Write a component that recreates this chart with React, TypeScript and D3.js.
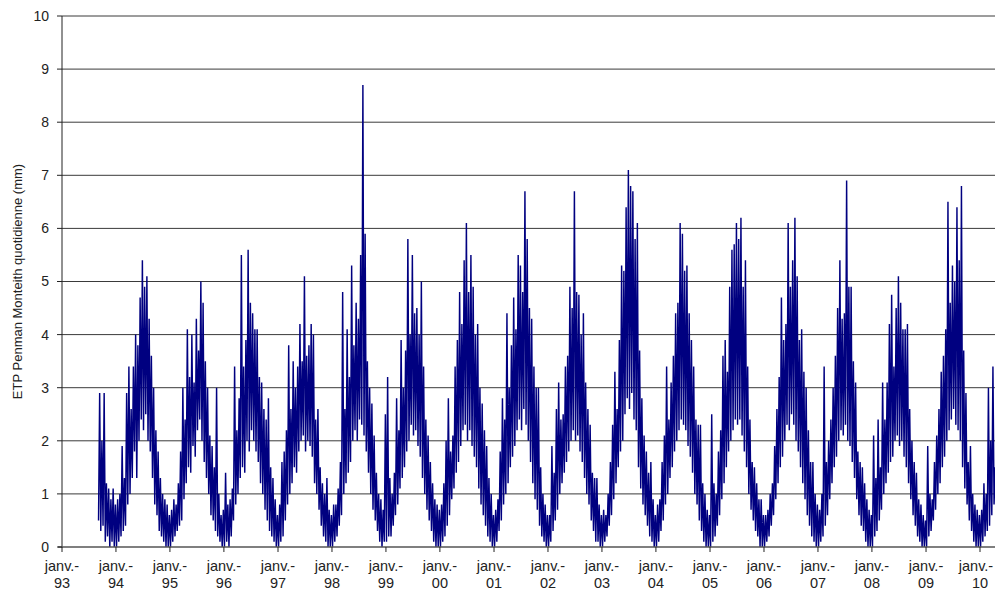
import React from "react";
import * as d3 from "d3";

// ---- axis content ----
const YEAR_TICKS = [1993, 1994, 1995, 1996, 1997, 1998, 1999, 2000, 2001, 2002, 2003, 2004, 2005, 2006, 2007, 2008, 2009, 2010];
const YEAR_LABELS = ["93", "94", "95", "96", "97", "98", "99", "00", "01", "02", "03", "04", "05", "06", "07", "08", "09", "10"];
const MONTH_LABEL = "janv.-";
const Y_TICKS = [0, 1, 2, 3, 4, 5, 6, 7, 8, 9, 10];
const Y_TITLE = "ETP Penman Monteith quotidienne (mm)";

// ---- daily ETP, as [low, high] per half-month ----
const start1993 = 16; // first half-month with data (September)
const etp1993 = [[0.5, 2.9], [0.3, 2.0], [0.4, 2.9], [0.1, 1.2], [0.2, 1.1], [0.0, 0.9], [0.1, 1.1], [0.0, 0.8]];
const etp1994 = [[0.0, 0.9], [0.1, 1.0], [0.2, 1.9], [0.3, 1.3], [0.4, 2.9], [0.8, 3.4], [1.0, 2.6], [1.3, 3.4], [1.8, 4.0], [1.3, 3.8], [2.0, 4.7], [2.4, 5.4], [2.2, 4.9], [2.5, 5.1], [2.0, 4.3], [1.8, 3.6], [1.3, 3.0], [0.8, 2.2], [0.6, 1.8], [0.3, 1.3], [0.2, 1.0], [0.1, 0.9], [0.0, 0.8], [0.0, 0.6]];
const etp1995 = [[0.0, 0.7], [0.1, 0.9], [0.2, 0.8], [0.3, 1.2], [0.4, 1.8], [0.5, 3.0], [0.9, 2.4], [1.2, 4.1], [1.5, 3.2], [1.4, 4.0], [1.9, 3.1], [1.7, 4.3], [2.2, 3.7], [2.4, 5.0], [2.0, 4.6], [1.6, 3.5], [1.3, 3.0], [1.0, 2.1], [0.6, 1.9], [0.5, 1.5], [0.3, 3.0], [0.2, 1.0], [0.1, 0.6], [0.0, 0.7]];
const etp1996 = [[0.0, 1.4], [0.1, 0.8], [0.0, 0.9], [0.2, 1.1], [0.5, 3.4], [0.8, 2.2], [1.0, 2.8], [1.3, 5.5], [1.5, 3.4], [1.4, 3.9], [2.0, 5.6], [1.8, 4.6], [2.2, 4.4], [2.0, 4.1], [1.8, 4.1], [1.6, 3.2], [1.2, 3.1], [1.0, 2.6], [0.7, 2.4], [0.5, 2.8], [0.3, 1.5], [0.2, 1.3], [0.1, 0.9], [0.0, 0.6]];
const etp1997 = [[0.0, 0.8], [0.1, 1.6], [0.2, 1.8], [0.5, 2.2], [0.8, 3.8], [1.0, 2.6], [1.2, 3.5], [1.5, 3.0], [1.4, 3.4], [1.8, 4.2], [2.0, 3.5], [2.1, 5.1], [1.8, 3.6], [2.0, 3.8], [1.9, 4.2], [1.7, 4.0], [1.2, 2.4], [1.0, 2.6], [0.7, 1.5], [0.4, 1.2], [0.2, 1.0], [0.1, 1.3], [0.0, 0.7], [0.0, 0.6]];
const etp1998 = [[0.0, 0.8], [0.1, 0.8], [0.2, 1.1], [0.4, 1.6], [0.6, 4.8], [1.0, 2.6], [1.2, 4.1], [1.4, 3.2], [1.6, 5.3], [2.0, 3.8], [2.2, 4.6], [2.0, 4.3], [2.4, 5.5], [2.3, 8.7], [2.1, 5.9], [1.8, 3.5], [1.4, 3.0], [1.0, 2.7], [0.7, 2.1], [0.5, 1.4], [0.3, 1.0], [0.1, 0.9], [0.0, 0.7], [0.1, 2.5]];
const etp1999 = [[0.1, 3.2], [0.2, 1.3], [0.2, 1.0], [0.4, 1.4], [0.6, 2.8], [0.8, 2.2], [1.1, 3.9], [1.3, 3.0], [1.5, 3.7], [1.8, 5.8], [2.0, 4.0], [2.3, 5.5], [2.1, 4.4], [2.2, 4.5], [1.9, 4.0], [1.7, 5.0], [1.3, 3.4], [1.0, 2.4], [0.7, 2.1], [0.5, 1.6], [0.3, 1.2], [0.1, 0.9], [0.0, 0.8], [0.0, 0.7]];
const etp2000 = [[0.0, 0.8], [0.1, 1.2], [0.2, 2.0], [0.4, 2.8], [0.6, 1.8], [0.9, 2.1], [1.1, 3.4], [1.4, 3.9], [1.6, 4.8], [1.9, 4.2], [2.2, 5.4], [2.3, 6.1], [2.0, 4.8], [2.2, 5.5], [1.9, 4.9], [1.7, 4.0], [1.5, 4.2], [1.1, 3.0], [0.8, 2.7], [0.6, 2.2], [0.4, 1.9], [0.2, 1.3], [0.1, 1.0], [0.0, 0.6]];
const etp2001 = [[0.0, 0.7], [0.1, 0.9], [0.3, 1.8], [0.5, 2.8], [0.8, 2.4], [1.0, 4.4], [1.2, 3.0], [1.5, 3.8], [1.7, 4.7], [1.9, 4.1], [2.2, 5.5], [2.4, 5.3], [2.2, 4.8], [2.6, 6.7], [2.3, 5.8], [2.0, 4.5], [1.6, 4.3], [1.2, 3.4], [0.9, 3.0], [0.7, 3.0], [0.4, 1.5], [0.2, 1.0], [0.1, 0.8], [0.0, 0.6]];
const etp2002 = [[0.0, 0.6], [0.1, 1.9], [0.3, 1.4], [0.5, 2.6], [0.7, 3.1], [1.0, 2.4], [1.2, 2.5], [1.4, 3.4], [1.6, 3.6], [1.8, 4.9], [2.0, 4.5], [2.2, 6.7], [2.0, 4.8], [2.1, 4.75], [1.8, 4.0], [1.6, 4.4], [1.3, 3.1], [1.0, 2.6], [0.8, 2.3], [0.5, 1.4], [0.3, 1.3], [0.1, 1.3], [0.1, 0.8], [0.0, 0.6]];
const etp2003 = [[0.0, 0.7], [0.1, 0.6], [0.2, 1.0], [0.4, 1.6], [0.6, 2.3], [0.9, 3.3], [1.2, 2.6], [1.5, 3.9], [1.8, 5.3], [2.0, 5.2], [2.5, 6.4], [2.8, 7.1], [2.6, 6.8], [2.9, 6.7], [2.4, 5.8], [2.2, 6.1], [1.5, 3.7], [1.1, 2.8], [0.8, 2.1], [0.6, 1.8], [0.4, 1.4], [0.2, 1.6], [0.1, 0.9], [0.0, 0.6]];
const etp2004 = [[0.0, 0.8], [0.1, 0.9], [0.3, 1.6], [0.5, 2.1], [0.8, 3.4], [1.0, 2.4], [1.3, 3.1], [1.5, 3.6], [1.8, 4.4], [2.0, 4.6], [2.2, 6.1], [2.4, 5.9], [2.3, 5.2], [2.2, 5.3], [1.9, 4.4], [1.7, 3.9], [1.4, 3.4], [1.0, 2.4], [0.8, 2.3], [0.5, 2.3], [0.3, 1.2], [0.1, 1.0], [0.0, 0.7], [0.0, 0.6]];
const etp2005 = [[0.0, 2.5], [0.1, 1.2], [0.2, 1.0], [0.4, 1.8], [0.6, 2.2], [0.9, 3.6], [1.2, 3.9], [1.5, 3.3], [1.8, 4.9], [2.0, 5.6], [2.2, 5.7], [2.4, 6.1], [2.3, 5.8], [2.4, 6.2], [2.1, 4.9], [1.8, 5.4], [1.5, 3.4], [1.0, 2.4], [0.7, 1.6], [0.5, 1.5], [0.3, 1.2], [0.2, 0.9], [0.0, 0.9], [0.0, 0.6]];
const etp2006 = [[0.0, 0.6], [0.1, 0.7], [0.2, 1.0], [0.4, 1.2], [0.6, 1.9], [0.9, 2.6], [1.2, 3.2], [1.5, 4.7], [1.7, 3.9], [2.0, 4.2], [2.3, 6.1], [2.2, 4.9], [2.5, 5.4], [2.3, 6.2], [2.0, 5.1], [1.8, 3.9], [1.5, 4.1], [1.2, 3.3], [0.9, 3.0], [0.6, 2.2], [0.4, 1.6], [0.2, 1.6], [0.1, 1.0], [0.0, 0.8]];
const etp2007 = [[0.0, 0.7], [0.1, 1.0], [0.2, 3.4], [0.4, 1.6], [0.6, 2.0], [0.9, 2.4], [1.2, 3.0], [1.5, 3.6], [1.7, 4.5], [2.0, 5.4], [2.2, 4.3], [2.1, 4.4], [2.3, 6.9], [2.0, 4.9], [1.9, 4.9], [1.6, 3.5], [1.3, 3.1], [0.9, 1.8], [0.6, 1.6], [0.4, 1.5], [0.3, 1.2], [0.1, 0.9], [0.0, 0.7], [0.0, 0.6]];
const etp2008 = [[0.0, 2.1], [0.2, 1.3], [0.3, 2.4], [0.5, 1.5], [0.7, 3.1], [1.0, 2.4], [1.2, 3.1], [1.4, 4.2], [1.6, 4.75], [1.7, 3.4], [2.0, 4.5], [2.1, 5.1], [1.9, 4.6], [2.0, 4.1], [1.7, 4.1], [1.5, 4.2], [1.2, 2.6], [0.9, 2.0], [0.6, 1.6], [0.4, 1.4], [0.2, 0.9], [0.1, 0.8], [0.0, 0.6], [0.0, 0.5]];
const etp2009 = [[0.0, 1.9], [0.2, 1.0], [0.3, 0.9], [0.5, 1.6], [0.7, 2.1], [1.0, 2.6], [1.2, 3.3], [1.5, 3.6], [1.7, 4.1], [2.0, 6.5], [2.2, 4.6], [2.4, 5.3], [2.6, 5.0], [2.3, 6.4], [2.2, 5.4], [2.0, 6.8], [1.5, 3.7], [1.1, 2.9], [0.8, 1.6], [0.5, 1.9], [0.3, 1.0], [0.1, 0.8], [0.0, 0.7], [0.0, 0.6]];
const etp2010 = [[0.0, 0.7], [0.1, 1.2], [0.2, 1.0], [0.3, 3.0], [0.4, 2.0], [0.6, 3.4], [0.8, 1.5]];

const seriesByYear: [number, number, number[][]][] = [
  [1993, start1993, etp1993], [1994, 0, etp1994], [1995, 0, etp1995], [1996, 0, etp1996],
  [1997, 0, etp1997], [1998, 0, etp1998], [1999, 0, etp1999], [2000, 0, etp2000],
  [2001, 0, etp2001], [2002, 0, etp2002], [2003, 0, etp2003], [2004, 0, etp2004],
  [2005, 0, etp2005], [2006, 0, etp2006], [2007, 0, etp2007], [2008, 0, etp2008],
  [2009, 0, etp2009], [2010, 0, etp2010],
];

type Pt = { date: Date; v: number };
const points: Pt[] = [];
seriesByYear.forEach(([year, start, pairs]) => {
  const t0 = +new Date(year, 0, 1);
  const len = +new Date(year + 1, 0, 1) - t0;
  pairs.forEach(([lo, hi], i) => {
    const k = start + i;
    points.push({ date: new Date(t0 + (len * (k + 0.25)) / 24), v: lo });
    points.push({ date: new Date(t0 + (len * (k + 0.75)) / 24), v: hi });
  });
});

const W = 995;
const H = 590;
const FONT = "'Liberation Sans', Arial, sans-serif";

export default function App() {
  const x = d3.scaleTime().domain([new Date(1993, 0, 1), new Date(2010, 0, 1)]).range([62, 980]);
  const y = d3.scaleLinear().domain([0, 10]).range([547, 16]);
  const plotRight = 995;
  const line = d3
    .line<Pt>()
    .x((d) => x(d.date))
    .y((d) => y(d.v));

  return (
    <div style={{ position: "absolute", left: 0, top: 0 }}>
      <svg width={W} height={H} style={{ display: "block", background: "#fff" }}>
        {/* gridlines */}
        {Y_TICKS.filter((t) => t > 0).map((t) => (
          <line key={"g" + t} x1={62} x2={plotRight} y1={y(t)} y2={y(t)} stroke="#3a3a3a" strokeWidth={1} />
        ))}
        {/* series */}
        <path d={line(points) || ""} fill="none" stroke="#000080" strokeWidth={1.45} strokeLinejoin="miter" />
        {/* axes */}
        <line x1={62} x2={62} y1={y(10)} y2={y(0) + 0.5} stroke="#222" strokeWidth={1} />
        <line x1={58} x2={plotRight} y1={y(0)} y2={y(0)} stroke="#555" strokeWidth={1.3} />
        {Y_TICKS.map((t) => (
          <g key={"y" + t}>
            <line x1={57} x2={62} y1={y(t)} y2={y(t)} stroke="#222" strokeWidth={1} />
            <text x={49} y={y(t)} dy="0.35em" textAnchor="end" fontFamily={FONT} fontSize={14} fill="#222">
              {t}
            </text>
          </g>
        ))}
        {YEAR_TICKS.map((yr, i) => {
          const xx = x(new Date(yr, 0, 1));
          const labelX = Math.min(xx, W - 19);
          return (
            <g key={"x" + yr}>
              <line x1={xx} x2={xx} y1={y(0)} y2={y(0) + 5} stroke="#222" strokeWidth={1} />
              <text x={labelX} y={571} textAnchor="middle" fontFamily={FONT} fontSize={14.5} fill="#222">
                {MONTH_LABEL}
              </text>
              <text x={xx} y={588} textAnchor="middle" fontFamily={FONT} fontSize={14.5} fill="#222">
                {YEAR_LABELS[i]}
              </text>
            </g>
          );
        })}
        <text
          transform={`translate(22, ${(y(0) + y(10)) / 2}) rotate(-90)`}
          textAnchor="middle"
          fontFamily={FONT}
          fontSize={13}
          fill="#222"
        >
          {Y_TITLE}
        </text>
      </svg>
    </div>
  );
}
